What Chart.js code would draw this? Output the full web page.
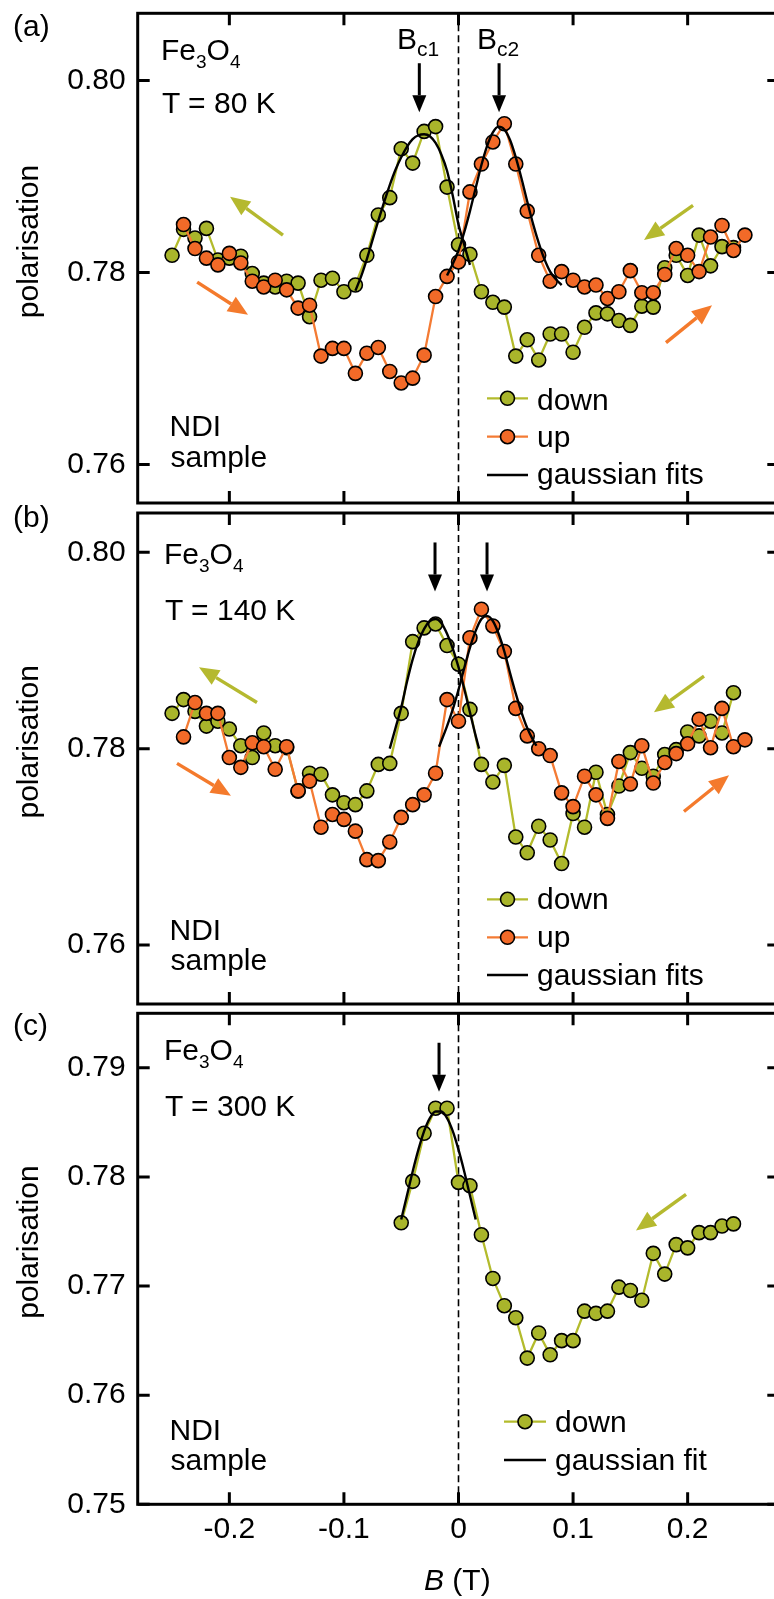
<!DOCTYPE html>
<html>
<head>
<meta charset="utf-8">
<title>Fe3O4 polarisation vs field</title>
<script src="https://cdn.jsdelivr.net/npm/chart.js@4.4.1/dist/chart.umd.min.js"></script>
<style>
  html, body { margin: 0; padding: 0; background: #fff; }
  body { width: 774px; height: 1599px; overflow: hidden; position: relative; font-family: 'Liberation Sans', Arial, sans-serif; }
  canvas { position: absolute; left: 0; }
  .lbl { position: absolute; font-size: 30px; line-height: 30px; white-space: nowrap; color: #000; }
  .lbl .sub { font-size: 19px; line-height: 0; position: relative; top: 8px; }
  .lbl .bsub { font-size: 21px; line-height: 0; position: relative; top: 7px; }
</style>
</head>
<body>
<canvas id="chart-a" width="790" height="508" style="top:0px"></canvas>
<canvas id="chart-b" width="790" height="501" style="top:508px"></canvas>
<canvas id="chart-c" width="790" height="590" style="top:1009px"></canvas>

<!-- panel (a) -->
<div class="lbl" style="left:13px; top:11px">(a)</div>
<div class="lbl" style="left:161px; top:34.6px">Fe<span class="sub">3</span>O<span class="sub">4</span></div>
<div class="lbl" style="left:162px; top:88px">T = 80 K</div>
<div class="lbl" style="left:397px; top:24px">B<span class="bsub">c1</span></div>
<div class="lbl" style="left:477px; top:24px">B<span class="bsub">c2</span></div>
<div class="lbl" style="left:169.5px; top:411.3px">NDI</div>
<div class="lbl" style="left:170.5px; top:441.6px">sample</div>

<!-- panel (b) -->
<div class="lbl" style="left:13px; top:501.6px">(b)</div>
<div class="lbl" style="left:164px; top:538.6px">Fe<span class="sub">3</span>O<span class="sub">4</span></div>
<div class="lbl" style="left:165px; top:594.6px">T = 140 K</div>
<div class="lbl" style="left:169.5px; top:914.6px">NDI</div>
<div class="lbl" style="left:170.5px; top:944.6px">sample</div>

<!-- panel (c) -->
<div class="lbl" style="left:13px; top:1010px">(c)</div>
<div class="lbl" style="left:164px; top:1034.6px">Fe<span class="sub">3</span>O<span class="sub">4</span></div>
<div class="lbl" style="left:165px; top:1090.6px">T = 300 K</div>
<div class="lbl" style="left:169.5px; top:1415.3px">NDI</div>
<div class="lbl" style="left:170.5px; top:1444.6px">sample</div>
<div class="lbl" style="left:424px; top:1565.3px"><i>B</i> (T)</div>

<script>
// ── Field steps (T), shared by all scans ──
const fieldB = [-0.25, -0.24, -0.23, -0.22, -0.21, -0.20, -0.19, -0.18, -0.17, -0.16,
  -0.15, -0.14, -0.13, -0.12, -0.11, -0.10, -0.09, -0.08, -0.07, -0.06,
  -0.05, -0.04, -0.03, -0.02, -0.01, 0, 0.01, 0.02, 0.03, 0.04,
  0.05, 0.06, 0.07, 0.08, 0.09, 0.10, 0.11, 0.12, 0.13, 0.14,
  0.15, 0.16, 0.17, 0.18, 0.19, 0.20, 0.21, 0.22, 0.23, 0.24, 0.25];

// ── Tick values ──
const xTicks = [-0.2, -0.1, 0, 0.1, 0.2];
const yTicksA = [0.76, 0.78, 0.80];
const yTicksB = [0.76, 0.78, 0.80];
const yTicksC = [0.75, 0.76, 0.77, 0.78, 0.79];

// ── (a) T = 80 K ──  down: -0.25..0.24, up: -0.24..0.25
const downA = [0.7818, 0.7845, 0.7836, 0.7846, 0.7813, 0.7815, 0.7817, 0.7799, 0.7789, 0.7785,
  0.7791, 0.7789, 0.7754, 0.7792, 0.7794, 0.7780, 0.7787, 0.7818, 0.7860, 0.7878,
  0.7929, 0.7914, 0.7947, 0.7952, 0.7889, 0.7829, 0.7819, 0.7780, 0.7769, 0.7764,
  0.7713, 0.7730, 0.7709, 0.7736, 0.7736, 0.7717, 0.7743, 0.7758, 0.7757, 0.7750,
  0.7745, 0.7765, 0.7764, 0.7805, 0.7818, 0.7797, 0.7839, 0.7807, 0.7827, 0.7826];
const upA = [0.7850, 0.7825, 0.7815, 0.7808, 0.7820, 0.7810, 0.7791, 0.7785, 0.7792, 0.7782,
  0.7763, 0.7766, 0.7713, 0.7721, 0.7721, 0.7695, 0.7716, 0.7722, 0.7697, 0.7685,
  0.7690, 0.7714, 0.7775, 0.7796, 0.7811, 0.7884, 0.7913, 0.7936, 0.7955, 0.7913,
  0.7864, 0.7818, 0.7791, 0.7801, 0.7792, 0.7785, 0.7787, 0.7773, 0.7780, 0.7802,
  0.7779, 0.7779, 0.7798, 0.7825, 0.7818, 0.7801, 0.7837, 0.7849, 0.7823, 0.7839];
const fitFieldA1 = [-0.09, -0.085, -0.08, -0.075, -0.07, -0.065, -0.06, -0.055, -0.05, -0.045, -0.04,
  -0.035, -0.03, -0.025, -0.02, -0.015, -0.01, -0.005, 0, 0.005, 0.01];
const fitA1 = [0.7781, 0.7796, 0.7814, 0.7834, 0.7854, 0.7873, 0.7891, 0.7907, 0.7920, 0.7931, 0.7939,
  0.7943, 0.7944, 0.7942, 0.7935, 0.7923, 0.7906, 0.7880, 0.7850, 0.7829, 0.7808];
const fitFieldA2 = [-0.01, -0.005, 0, 0.005, 0.01, 0.015, 0.02, 0.025, 0.03, 0.035, 0.04,
  0.045, 0.05, 0.055, 0.06, 0.065, 0.07, 0.075, 0.08, 0.085, 0.09];
const fitA2 = [0.7797, 0.7809, 0.7823, 0.7842, 0.7864, 0.7888, 0.7912, 0.7932, 0.7946, 0.7952, 0.7949,
  0.7938, 0.7920, 0.7898, 0.7874, 0.7851, 0.7831, 0.7814, 0.7801, 0.7793, 0.7787];

// ── (b) T = 140 K ──
const downB = [0.7836, 0.7850, 0.7838, 0.7823, 0.7828, 0.7820, 0.7803, 0.7791, 0.7816, 0.7803,
  0.7801, 0.7757, 0.7775, 0.7774, 0.7753, 0.7745, 0.7743, 0.7757, 0.7784, 0.7785,
  0.7836, 0.7909, 0.7923, 0.7927, 0.7905, 0.7886, 0.7840, 0.7784, 0.7766, 0.7783,
  0.7710, 0.7694, 0.7721, 0.7707, 0.7683, 0.7734, 0.7720, 0.7776, 0.7733, 0.7762,
  0.7796, 0.7780, 0.7772, 0.7794, 0.7799, 0.7817, 0.7813, 0.7828, 0.7816, 0.7857];
const upB = [0.7812, 0.7847, 0.7836, 0.7836, 0.7791, 0.7781, 0.7806, 0.7802, 0.7779, 0.7802,
  0.7757, 0.7767, 0.7720, 0.7733, 0.7728, 0.7716, 0.7687, 0.7686, 0.7705, 0.7730,
  0.7743, 0.7753, 0.7775, 0.7850, 0.7828, 0.7913, 0.7942, 0.7925, 0.7899, 0.7841,
  0.7813, 0.7800, 0.7793, 0.7755, 0.7741, 0.7772, 0.7753, 0.7729, 0.7787, 0.7764,
  0.7803, 0.7765, 0.7786, 0.7795, 0.7805, 0.7830, 0.7801, 0.7841, 0.7802, 0.7809];
const fitFieldB1 = [-0.06, -0.055, -0.05, -0.045, -0.04, -0.035, -0.03, -0.025, -0.02,
  -0.015, -0.01, -0.005, 0, 0.005, 0.01, 0.015, 0.018];
const fitB1 = [0.7800, 0.7821, 0.7842, 0.7868, 0.7891, 0.7909, 0.7922, 0.7930, 0.7932,
  0.7928, 0.7917, 0.7902, 0.7883, 0.7861, 0.7837, 0.7813, 0.7800];
const fitFieldB2 = [-0.017, -0.01, -0.005, 0, 0.005, 0.01, 0.015, 0.02, 0.025,
  0.03, 0.035, 0.04, 0.045, 0.05, 0.055, 0.06, 0.065, 0.068];
const fitB2 = [0.7802, 0.7823, 0.7840, 0.7860, 0.7882, 0.7903, 0.7920, 0.7932, 0.7935,
  0.7930, 0.7917, 0.7899, 0.7877, 0.7856, 0.7837, 0.7821, 0.7809, 0.7803];

// ── (c) T = 300 K ──  down only: -0.05..0.24
const downC = [0.7758, 0.7796, 0.7840, 0.7863, 0.7863, 0.7795, 0.7792, 0.7747, 0.7707, 0.7682,
  0.7671, 0.7634, 0.7657, 0.7637, 0.7650, 0.7650, 0.7677, 0.7675, 0.7677, 0.7699,
  0.7696, 0.7687, 0.7730, 0.7711, 0.7738, 0.7735, 0.7749, 0.7749, 0.7755, 0.7757];
const fitFieldC = [-0.05, -0.045, -0.04, -0.035, -0.03, -0.025, -0.02,
  -0.015, -0.01, -0.005, 0, 0.005, 0.01, 0.015];
const fitC = [0.7761, 0.7783, 0.7805, 0.7825, 0.7842, 0.7854, 0.7860,
  0.7860, 0.7854, 0.7842, 0.7825, 0.7805, 0.7783, 0.7761];

(function() {
  'use strict';

  const OLIVE = '#a9b52b', OLIVE_LINE = '#b3bb2c';
  const ORANGE = '#f26a28', ORANGE_LINE = '#f47b34';
  const FONT = "'Liberation Sans', Arial, sans-serif";

  Chart.defaults.font.family = FONT;
  Chart.defaults.color = '#000';

  function pts(xs, ys) {
    return ys.map(function(v, i) { return { x: xs[i], y: v }; });
  }

  function scanSet(label, xs, ys, fill, line, order) {
    return {
      label: label, data: pts(xs, ys), order: order,
      borderColor: line, borderWidth: 2.3, backgroundColor: fill,
      pointBackgroundColor: fill, pointBorderColor: '#000', pointBorderWidth: 1.6,
      pointRadius: 7, tension: 0
    };
  }

  function fitSet(xs, ys) {
    return {
      label: 'fit', data: pts(xs, ys), order: 0,
      borderColor: '#000', borderWidth: 2.4, pointRadius: 0,
      cubicInterpolationMode: 'monotone'
    };
  }

  // ── Frame, inward ticks and zero line ──
  const framePlugin = {
    id: 'panelFrame',
    beforeDatasetsDraw: function(chart) {
      const ctx = chart.ctx, a = chart.chartArea, x0 = chart.scales.x.getPixelForValue(0);
      ctx.save();
      ctx.strokeStyle = '#000';
      ctx.lineWidth = 1.6;
      ctx.setLineDash([7, 4]);
      ctx.beginPath(); ctx.moveTo(x0, a.top); ctx.lineTo(x0, a.bottom); ctx.stroke();
      ctx.restore();
    },
    afterDraw: function(chart, args, opts) {
      const ctx = chart.ctx, a = chart.chartArea, sx = chart.scales.x, sy = chart.scales.y;
      const tl = 12;
      ctx.save();
      ctx.strokeStyle = '#000';
      ctx.lineWidth = 3;
      ctx.beginPath();
      xTicks.forEach(function(v) {
        const p = sx.getPixelForValue(v);
        ctx.moveTo(p, a.top); ctx.lineTo(p, a.top + tl);
        ctx.moveTo(p, a.bottom); ctx.lineTo(p, a.bottom - tl);
      });
      opts.yTicks.forEach(function(v) {
        const p = sy.getPixelForValue(v);
        ctx.moveTo(a.left, p); ctx.lineTo(a.left + tl, p);
        ctx.moveTo(a.right, p); ctx.lineTo(a.right - tl, p);
      });
      ctx.stroke();
      ctx.strokeRect(a.left, a.top, a.right - a.left, a.bottom - a.top);
      ctx.restore();
    }
  };

  // ── Sweep-direction and peak arrows (data coordinates) ──
  function drawArrow(ctx, x1, y1, x2, y2, color, width, headLen, headHalf) {
    const ang = Math.atan2(y2 - y1, x2 - x1);
    const bx = x2 - headLen * Math.cos(ang), by = y2 - headLen * Math.sin(ang);
    ctx.strokeStyle = color; ctx.fillStyle = color; ctx.lineWidth = width;
    ctx.beginPath(); ctx.moveTo(x1, y1); ctx.lineTo(bx, by); ctx.stroke();
    ctx.beginPath();
    ctx.moveTo(x2, y2);
    ctx.lineTo(bx + headHalf * Math.sin(ang), by - headHalf * Math.cos(ang));
    ctx.lineTo(bx - headHalf * Math.sin(ang), by + headHalf * Math.cos(ang));
    ctx.closePath(); ctx.fill();
  }

  const arrowPlugin = {
    id: 'panelArrows',
    afterDatasetsDraw: function(chart, args, opts) {
      const ctx = chart.ctx, sx = chart.scales.x, sy = chart.scales.y;
      ctx.save();
      (opts.list || []).forEach(function(ar) {
        const big = ar.kind === 'sweep';
        drawArrow(ctx,
          sx.getPixelForValue(ar.from[0]), sy.getPixelForValue(ar.from[1]),
          sx.getPixelForValue(ar.to[0]), sy.getPixelForValue(ar.to[1]),
          ar.color, big ? 3.4 : 3, big ? 20 : 17, big ? 8.5 : 7);
      });
      ctx.restore();
    }
  };

  // ── In-plot legend ──
  const legendPlugin = {
    id: 'panelLegend',
    afterDraw: function(chart, args, opts) {
      const ctx = chart.ctx;
      ctx.save();
      ctx.font = '30px ' + FONT;
      ctx.textBaseline = 'alphabetic';
      opts.items.forEach(function(it) {
        const ds = chart.data.datasets[it.dataset];
        ctx.strokeStyle = ds.borderColor;
        ctx.lineWidth = ds.borderWidth;
        ctx.beginPath(); ctx.moveTo(opts.x1, it.y); ctx.lineTo(opts.x2, it.y); ctx.stroke();
        if (ds.pointRadius > 0) {
          ctx.beginPath();
          ctx.arc((opts.x1 + opts.x2) / 2, it.y, ds.pointRadius, 0, 2 * Math.PI);
          ctx.fillStyle = ds.pointBackgroundColor; ctx.fill();
          ctx.lineWidth = ds.pointBorderWidth; ctx.strokeStyle = ds.pointBorderColor; ctx.stroke();
        }
        ctx.fillStyle = '#000';
        ctx.fillText(it.label, opts.tx, it.ty);
      });
      ctx.restore();
    }
  };

  function makePanel(id, cfg) {
    const showX = !!cfg.showX;
    return new Chart(document.getElementById(id), {
      type: 'line',
      data: { datasets: cfg.datasets },
      plugins: [framePlugin, arrowPlugin, legendPlugin],
      options: {
        responsive: false, animation: false, devicePixelRatio: 1, events: [],
        layout: { autoPadding: false, padding: cfg.padding },
        plugins: {
          legend: { display: false }, tooltip: { enabled: false },
          panelFrame: { yTicks: cfg.yTicks },
          panelArrows: { list: cfg.arrows },
          panelLegend: cfg.legend
        },
        scales: {
          x: {
            type: 'linear', min: -0.28, max: 0.28, display: showX,
            grid: { display: false, drawTicks: false }, border: { display: false },
            afterBuildTicks: function(s) { s.ticks = xTicks.map(function(v) { return { value: v }; }); },
            afterFit: function(s) { if (showX) s.height = cfg.xHeight; s.paddingLeft = 0; s.paddingRight = 0; },
            ticks: {
              font: { size: 30 }, color: '#000', padding: 7, maxRotation: 0, autoSkip: false,
              callback: function(v) { return v === 0 ? '0' : v.toFixed(1); }
            }
          },
          y: {
            type: 'linear', min: cfg.yMin, max: cfg.yMax,
            grid: { display: false, drawTicks: false }, border: { display: false },
            afterBuildTicks: function(s) { s.ticks = cfg.yTicks.map(function(v) { return { value: v }; }); },
            afterFit: function(s) { s.width = 137.7; s.paddingTop = 0; s.paddingBottom = 0; },
            ticks: {
              font: { size: 30 }, color: '#000', padding: 12, autoSkip: false,
              callback: function(v) { return v.toFixed(2); }
            },
            title: {
              display: true, text: '    polarisation', color: '#000',
              font: { size: 30 }, padding: { top: 12, bottom: 0 }
            }
          }
        }
      }
    });
  }

  const downField = fieldB.slice(0, 50);
  const upField = fieldB.slice(1);

  // (a)
  makePanel('chart-a', {
    yMin: 0.756, yMax: 0.807, yTicks: yTicksA,
    padding: { left: 0, right: 10.7, top: 13.3, bottom: 5 },
    datasets: [
      fitSet(fitFieldA1, fitA1),
      fitSet(fitFieldA2, fitA2),
      scanSet('up', upField, upA, ORANGE, ORANGE_LINE, 1),
      scanSet('down', downField, downA, OLIVE, OLIVE_LINE, 2)
    ],
    arrows: [
      { kind: 'sweep', color: '#b5b92f', from: [-0.1532, 0.7839], to: [-0.1994, 0.7879] },
      { kind: 'sweep', color: '#f47a2c', from: [-0.2281, 0.7790], to: [-0.1837, 0.7756] },
      { kind: 'sweep', color: '#b5b92f', from: [0.2047, 0.7870], to: [0.1619, 0.7834] },
      { kind: 'sweep', color: '#f47a2c', from: [0.1811, 0.7727], to: [0.2213, 0.7766] },
      { kind: 'peak', color: '#000', from: [-0.0342, 0.8018], to: [-0.0342, 0.7967] },
      { kind: 'peak', color: '#000', from: [0.0354, 0.8018], to: [0.0354, 0.7967] }
    ],
    legend: {
      x1: 487, x2: 528, tx: 537,
      items: [
        { dataset: 3, label: 'down', y: 398.3, ty: 410 },
        { dataset: 2, label: 'up', y: 436.7, ty: 446.7 },
        { dataset: 0, label: 'gaussian fits', y: 475, ty: 484 }
      ]
    }
  });

  // (b)
  makePanel('chart-b', {
    yMin: 0.754, yMax: 0.804, yTicks: yTicksB,
    padding: { left: 0, right: 10.7, top: 5, bottom: 5 },
    datasets: [
      fitSet(fitFieldB1, fitB1),
      fitSet(fitFieldB2, fitB2),
      scanSet('up', upField, upB, ORANGE, ORANGE_LINE, 1),
      scanSet('down', downField, downB, OLIVE, OLIVE_LINE, 2)
    ],
    arrows: [
      { kind: 'sweep', color: '#b5b92f', from: [-0.1759, 0.7847], to: [-0.2265, 0.7883] },
      { kind: 'sweep', color: '#f47a2c', from: [-0.2457, 0.7785], to: [-0.1986, 0.7752] },
      { kind: 'sweep', color: '#b5b92f', from: [0.2143, 0.7874], to: [0.1706, 0.7837] },
      { kind: 'sweep', color: '#f47a2c', from: [0.1968, 0.7736], to: [0.2361, 0.7773] },
      { kind: 'peak', color: '#000', from: [-0.0205, 0.8010], to: [-0.0205, 0.7960] },
      { kind: 'peak', color: '#000', from: [0.0249, 0.8010], to: [0.0249, 0.7960] }
    ],
    legend: {
      x1: 487, x2: 528, tx: 537,
      items: [
        { dataset: 3, label: 'down', y: 391.3, ty: 401.3 },
        { dataset: 2, label: 'up', y: 429.3, ty: 438.7 },
        { dataset: 0, label: 'gaussian fits', y: 467, ty: 477 }
      ]
    }
  });

  // (c)
  makePanel('chart-c', {
    yMin: 0.75, yMax: 0.795, yTicks: yTicksC, showX: true, xHeight: 94.7,
    padding: { left: 0, right: 10.7, top: 4.3, bottom: 0 },
    datasets: [
      fitSet(fitFieldC, fitC),
      scanSet('down', fieldB.slice(20, 50), downC, OLIVE, OLIVE_LINE, 2)
    ],
    arrows: [
      { kind: 'sweep', color: '#b5b92f', from: [0.1986, 0.7784], to: [0.1549, 0.7751] },
      { kind: 'peak', color: '#000', from: [-0.0170, 0.7923], to: [-0.0170, 0.7878] }
    ],
    legend: {
      x1: 504, x2: 546, tx: 555,
      items: [
        { dataset: 1, label: 'down', y: 412.7, ty: 422.7 },
        { dataset: 0, label: 'gaussian fit', y: 451, ty: 461 }
      ]
    }
  });
})();
</script>
</body>
</html>
